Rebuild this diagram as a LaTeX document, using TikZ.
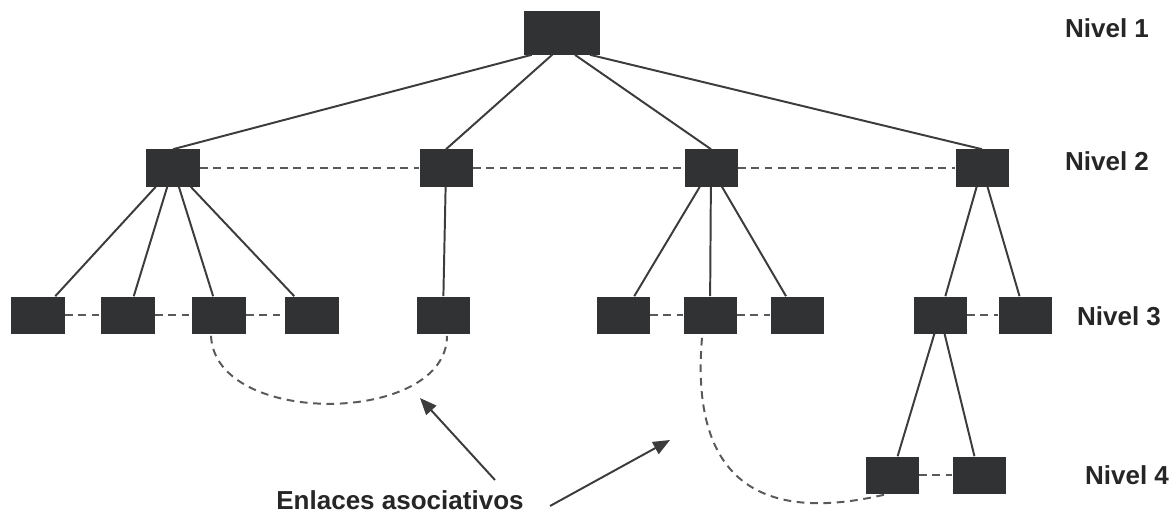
\documentclass[tikz,border=0pt]{standalone}
\usepackage{fontspec}
\setmainfont{Liberation Sans}
\usepackage{tikz}
\usetikzlibrary{arrows.meta, positioning, calc}

\definecolor{boxgray}{HTML}{303233}
\definecolor{linegray}{HTML}{3C3C3C}

\begin{document}
\begin{tikzpicture}[
    x=0.025cm, y=-0.025cm,
    box/.style={rectangle, fill=boxgray, minimum width=1.325cm, minimum height=0.925cm, inner sep=0pt},
    topbox/.style={box, minimum width=1.875cm, minimum height=1.075cm},
    tree/.style={draw=linegray, line width=1.4pt},
    assoc/.style={draw=linegray!85, line width=1.4pt, dash pattern=on 5.5pt off 4pt},
    lbl/.style={font=\bfseries\fontsize{18.5}{21}\selectfont, text=black!85},
    pointer/.style={draw=linegray, line width=1.4pt, -{Triangle[length=4.2mm, width=3.4mm]}}
]
    \useasboundingbox (0,0) rectangle (1175,513);

    % Nivel 1
    \node[topbox] (top) at (562,33) {};

    % Nivel 2
    \node[box] (n21) at (173,168) {};
    \node[box] (n22) at (446,168) {};
    \node[box] (n23) at (711,168) {};
    \node[box] (n24) at (982,168) {};

    % Nivel 3
    \node[box] (n31) at (38,315) {};
    \node[box] (n32) at (128,315) {};
    \node[box] (n33) at (219,315) {};
    \node[box] (n34) at (312,315) {};
    \node[box] (n35) at (443,315) {};
    \node[box] (n36) at (623,315) {};
    \node[box] (n37) at (710,315) {};
    \node[box] (n38) at (797,315) {};
    \node[box] (n39) at (940,315) {};
    \node[box] (n310) at (1025,315) {};

    % Nivel 4
    \node[box] (n41) at (892,475) {};
    \node[box] (n42) at (979,475) {};

    % jerarquia
    \draw[tree] ($(top.south west)!.1!(top.south east)$) -- (n21.north);
    \draw[tree] ($(top.south west)!.37!(top.south east)$) -- (n22.north);
    \draw[tree] ($(top.south west)!.67!(top.south east)$) -- (n23.north);
    \draw[tree] ($(top.south west)!.87!(top.south east)$) -- (n24.north);
    \foreach \c in {n31, n32, n33, n34}
        \draw[tree] (n21) -- (\c);
    \draw[tree] (n22) -- (n35);
    \foreach \c in {n36, n37, n38}
        \draw[tree] (n23) -- (\c);
    \foreach \c in {n39, n310}
        \draw[tree] (n24) -- (\c);
    \foreach \c in {n41, n42}
        \draw[tree] (n39) -- (\c);

    % enlaces del mismo nivel
    \draw[assoc] (n21) -- (n22);
    \draw[assoc] (n22) -- (n23);
    \draw[assoc] (n23) -- (n24);
    \draw[assoc] (n31) -- (n32);
    \draw[assoc] (n32) -- (n33);
    \draw[assoc] (n33) -- (n34);
    \draw[assoc] (n36) -- (n37);
    \draw[assoc] (n37) -- (n38);
    \draw[assoc] (n39) -- (n310);
    \draw[assoc] (n41) -- (n42);

    % enlaces asociativos
    \draw[assoc] ([xshift=-0.2cm,yshift=-0.05cm]n33.south) .. controls (215,428) and (447,425) .. ([xshift=0.1cm,yshift=-0.05cm]n35.south);
    \draw[assoc] ([xshift=-0.2cm,yshift=-0.1cm]n37.south) .. controls (690,480) and (760,525) .. ([xshift=-0.1cm]n41.south);

    % etiquetas
    \node[lbl] (l1) at (1107,28) {Nivel 1};
    \node[lbl] (l2) at (1107,161) {Nivel 2};
    \node[lbl] (l3) at (1119,316) {Nivel 3};
    \node[lbl] (l4) at (1127,475) {Nivel 4};
    \node[lbl] (enl) at (400,500) {Enlaces asociativos};

    % flechas
    \coordinate (p1) at (495,480);
    \coordinate (q1) at (420,398);
    \coordinate (p2) at (550,506);
    \coordinate (q2) at (670,440);
    \draw[pointer] (p1) -- (q1);
    \draw[pointer] (p2) -- (q2);
\end{tikzpicture}
\end{document}
